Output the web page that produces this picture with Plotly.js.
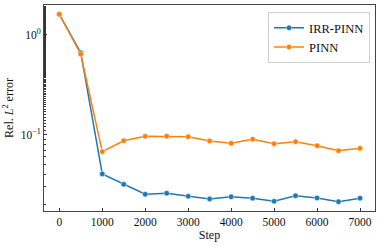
<!DOCTYPE html>
<html><head><meta charset="utf-8">
<script src="https://cdn.plot.ly/plotly-3.0.1.min.js"></script>
<style>html,body{margin:0;padding:0;background:#fff}#chart{width:381px;height:246px}</style>
</head><body><div id="chart"></div>
<script>
const steps = [0,500,1000,1500,2000,2500,3000,3500,4000,4500,5000,5500,6000,6500,7000];
const irrPinn = [1.6,0.66,0.0405,0.0319,0.0254,0.026,0.0242,0.0228,0.0239,0.0232,0.0216,0.0245,0.0233,0.0214,0.0232];
const pinn = [1.6,0.637,0.0676,0.087,0.0963,0.0966,0.0955,0.0865,0.082,0.090,0.0813,0.0851,0.0776,0.0692,0.0730];
const seriesNames = ['IRR-PINN','PINN'];
const yTickVals = [1, 0.1];
const yTickText = ['10<sup>0</sup>','10<sup>−1</sup>'];
const xTickVals = [0,1000,2000,3000,4000,5000,6000,7000];

const fam = '"Liberation Serif", "DejaVu Serif", serif';
const font = {family:fam, size:11.5, color:'#111'};
const mk = (y, name, color) => ({
  x: steps, y: y, name: name, type:'scatter', mode:'lines+markers',
  line:{color:color, width:1.5},
  marker:{color:color, size:5.5, line:{color:'#fff', width:0.5}}
});
const data = [mk(irrPinn, seriesNames[0], '#1f77b4'), mk(pinn, seriesNames[1], '#ff7f0e')];
const layout = {
  width:381, height:246,
  margin:{l:44, r:6, t:5, b:35},
  paper_bgcolor:'#fff', plot_bgcolor:'#fff',
  font: font,
  showlegend:true,
  legend:{x:0.985, y:0.965, xanchor:'right', yanchor:'top', bgcolor:'rgba(255,255,255,0.8)',
    bordercolor:'#d0d0d0', borderwidth:1, font:{family:fam, size:12.5, color:'#111'},
    tracegroupgap:0, itemwidth:30},
  xaxis:{range:[-356,7349], tickvals:xTickVals, ticks:'inside', ticklen:3, tickcolor:'#333',
    tickfont:{family:fam, size:11.5},
    showline:true, linecolor:'#444', linewidth:1, mirror:true, showgrid:false, zeroline:false,
    title:{text:'Step', font:{family:fam, size:12}, standoff:3}},
  yaxis:{type:'log', range:[Math.log10(0.01726), Math.log10(1.98)], tickvals:yTickVals, ticktext:yTickText,
    tickfont:{family:fam, size:11.5},
    ticks:'inside', ticklen:3, tickcolor:'#333',
    minor:{ticks:'inside', ticklen:2, tickcolor:'#333', showgrid:false},
    showline:true, linecolor:'#444', linewidth:1, mirror:true, showgrid:false, zeroline:false,
    title:{text:'Rel. <i>L</i><sup>2</sup> error', font:{family:fam, size:12}, standoff:4}}
};
Plotly.newPlot('chart', data, layout, {displayModeBar:false, staticPlot:true});
</script></body></html>
